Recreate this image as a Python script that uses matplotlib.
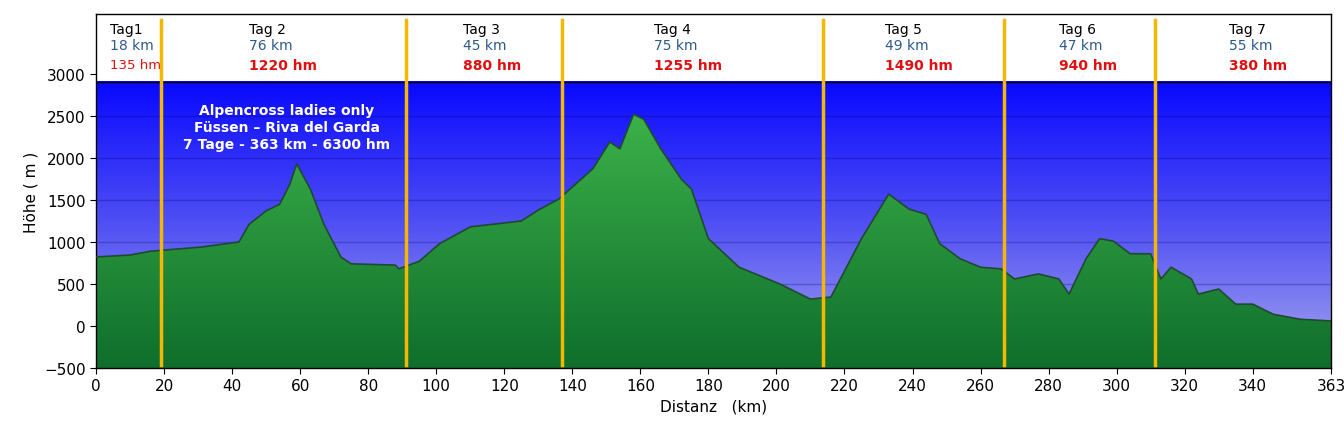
import matplotlib
matplotlib.use("Agg")
import matplotlib.pyplot as plt
import numpy as np
from matplotlib.colors import LinearSegmentedColormap

# elevation profile (km, m)
km = [0, 10, 16, 31, 42, 45, 50, 54, 57, 59, 63, 67, 72, 75, 88, 89, 95, 101, 110, 125,
      130, 136, 141, 146, 151, 154, 158, 161, 166, 172, 175, 180, 189, 201, 210, 216, 225,
      233, 239, 244, 248, 254, 260, 266, 270, 277, 283, 286, 291, 295, 299, 304, 310, 313,
      316, 322, 324, 330, 335, 340, 346, 354, 363]
elev = [822, 845, 890, 940, 1000, 1210, 1370, 1450, 1690, 1930, 1630, 1210, 820, 740, 725,
        680, 770, 980, 1180, 1250, 1380, 1510, 1690, 1870, 2190, 2110, 2520, 2460, 2110,
        1750, 1630, 1040, 700, 500, 320, 345, 1040, 1570, 1390, 1330, 980, 800, 700, 680,
        560, 620, 560, 380, 800, 1040, 1010, 860, 860, 560, 700, 560, 380, 440, 260, 260,
        140, 80, 60]

day_bounds = [19.1, 91.1, 137, 213.6, 266.8, 311.2]
day_names = ["Tag1", "Tag 2", "Tag 3", "Tag 4", "Tag 5", "Tag 6", "Tag 7"]
day_km = ["18 km", "76 km", "45 km", "75 km", "49 km", "47 km", "55 km"]
day_hm = ["135 hm", "1220 hm", "880 hm", "1255 hm", "1490 hm", "940 hm", "380 hm"]
label_x = [4, 45, 108, 164, 232, 283, 333]
x_ticks = [0, 20, 40, 60, 80, 100, 120, 140, 160, 180, 200, 220, 240, 260, 280, 300, 320, 340, 363]

XMAX, YMIN, PTOP, YTOP = 363, -500, 2905, 3714

fig = plt.figure(figsize=(13.44, 4.35), dpi=100)
ax = fig.add_axes([96 / 1344, 66 / 435, 1235 / 1344, 354 / 435])
ax.set_xlim(0, XMAX)
ax.set_ylim(YMIN, YTOP)

# blue sky gradient (light at bottom, deep blue at top)
sky = LinearSegmentedColormap.from_list("sky", ["#a8a8ee", "#5050f4", "#0808ff"])
grad = np.linspace(0, 1, 256).reshape(-1, 1)
ax.imshow(grad, cmap=sky, aspect="auto", origin="lower",
          extent=[0, XMAX, YMIN, PTOP], zorder=0)
for y in range(-500, 3000, 500):
    ax.axhline(y, color="#000060", alpha=0.25, lw=1, zorder=1)

# green terrain: dark at bottom, lighter towards the top
green = LinearSegmentedColormap.from_list("grn", ["#0f6e2c", "#3db34a"])
poly = ax.fill_between(km, elev, YMIN, color="none", zorder=2)
img = ax.imshow(grad, cmap=green, aspect="auto", origin="lower",
                extent=[0, XMAX, YMIN, 2600], zorder=2)
img.set_clip_path(poly.get_paths()[0], transform=ax.transData)
ax.plot(km, elev, color="#1f4a30", lw=1.2, zorder=3)

# header box
ax.axhline(PTOP, color="black", lw=1, zorder=4)
for b in day_bounds:
    ax.plot([b, b], [-460, 3640], color="#f5b800", lw=2.5, zorder=5)
hf = ["Liberation Sans Narrow", "DejaVu Sans"]
for x, n, k, h in zip(label_x, day_names, day_km, day_hm):
    ax.text(x, 3535, n, fontsize=10, color="black", family=hf, va="center")
    ax.text(x, 3345, k, fontsize=10, color="#2e5a8a", family=hf, va="center")
    ax.text(x, 3107, h, fontsize=9.5 if h == "135 hm" else 10, color="#e01010",
            family=hf, va="center", fontweight="normal" if h == "135 hm" else "bold")

ax.text(56, 2370, "Alpencross ladies only\nFüssen – Riva del Garda\n7 Tage - 363 km - 6300 hm",
        color="white", ha="center", va="center", fontsize=10, family=hf,
        fontweight="bold", linespacing=1.3, zorder=6)

ax.set_xticks(x_ticks)
ax.set_xticklabels([str(v) for v in x_ticks])
ax.set_yticks(range(-500, 3001, 500))
ax.tick_params(labelsize=11, length=4)
ax.set_xlabel("Distanz   (km)", fontsize=11)
ax.set_ylabel("Höhe ( m )", fontsize=11)
for s in ax.spines.values():
    s.set_linewidth(1)

fig.savefig("out.png", dpi=100)
